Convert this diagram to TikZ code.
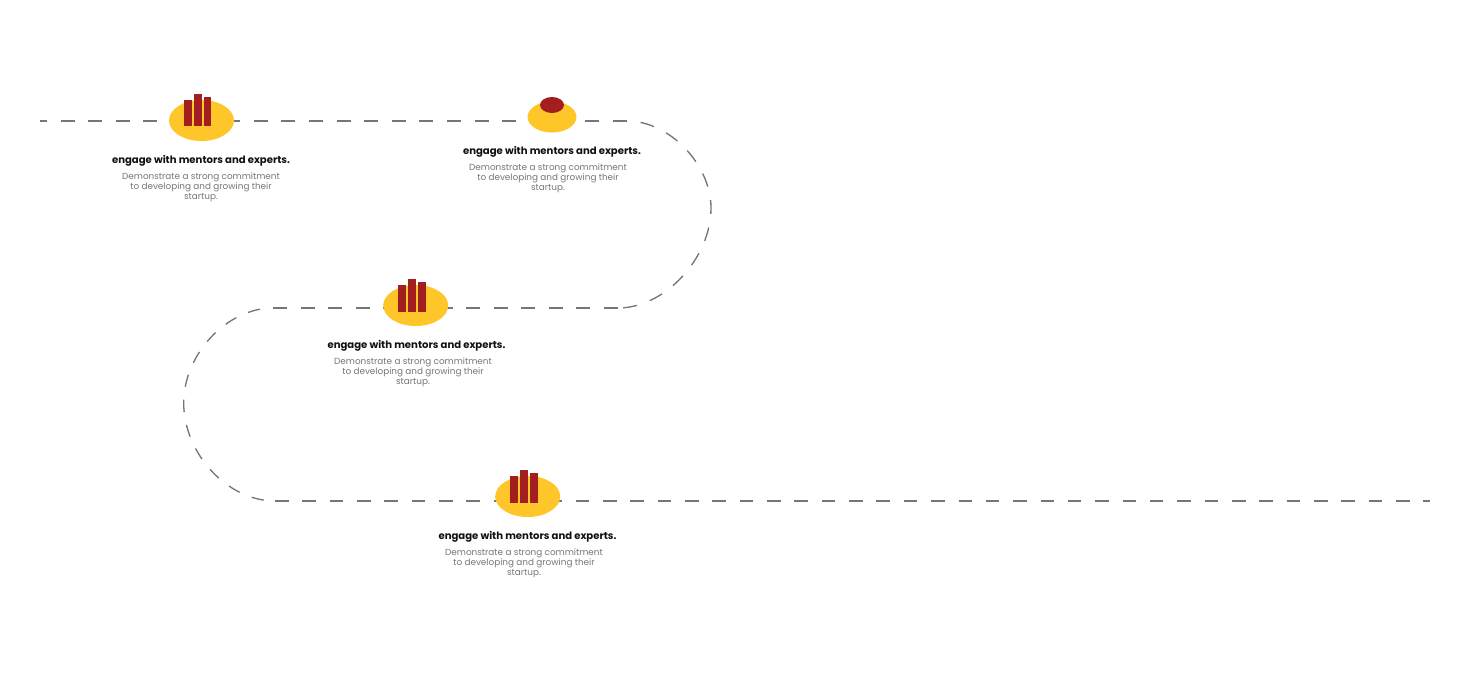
\documentclass[tikz,border=0pt]{standalone}
\usepackage{fontspec}
\setmainfont{Poppins}
\usetikzlibrary{shapes.geometric}
\definecolor{pathgrey}{HTML}{767676}
\definecolor{spotyellow}{HTML}{FFC629}
\definecolor{barred}{HTML}{A31F1F}
\definecolor{headblack}{HTML}{111111}
\definecolor{bodygrey}{HTML}{757575}

\tikzset{
  spot/.style={ellipse,fill=spotyellow,inner sep=0pt,minimum width=65pt,minimum height=41pt},
  smallspot/.style={ellipse,fill=spotyellow,inner sep=0pt,minimum width=49pt,minimum height=31pt},
  redspot/.style={ellipse,fill=barred,inner sep=0pt,minimum width=24pt,minimum height=16pt},
  bar/.style={fill=barred,inner sep=0pt,minimum width=7.8pt,anchor=south},
  head/.style={font=\bfseries\fontsize{10.1}{12}\selectfont,text=headblack,inner sep=0pt},
  body/.style={font=\fontsize{8.85}{10}\selectfont,text=bodygrey,align=center,inner sep=0pt},
  trail/.style n args={3}{draw=pathgrey,line width=1.35pt,dash pattern=on #1pt off #2pt,dash phase=#3pt}
}

\begin{document}
\begin{tikzpicture}[x=1pt,y=-1pt]
  \useasboundingbox (0,0) rectangle (1481,680);

  \coordinate (start) at (40,121);
  \coordinate (bendA) at (627,121);
  \coordinate (bendB) at (618,308);
  \coordinate (bendC) at (273,308);
  \coordinate (bendD) at (275,501);
  \coordinate (finish) at (1430,501);

  % the trail, piece by piece
  \draw[trail={14}{13.6}{7}] (start) -- (bendA);
  \draw[trail={14}{13.7}{14}] (bendA)
    .. controls (670,121) and (711,165) .. (711,208)
    .. controls (711,258) and (665,308) .. (bendB);
  \draw[trail={14}{13.58}{0}] (bendB) -- (bendC);
  \draw[trail={12.4}{13}{12.4}] (bendC)
    .. controls (227,308) and (183.7,354) .. (183.7,403)
    .. controls (183.7,453) and (227,501) .. (bendD);
  \draw[trail={13.6}{13.74}{0}] (bendD) -- (finish);

  \node[spot] (s1) at (201.5,120.5) {};
  \node[smallspot] (s2) at (552,117) {};
  \node[redspot] (r2) at (552,105) {};
  \node[spot] (s3) at (415.7,305.5) {};
  \node[spot] (s4) at (527.7,496.5) {};

  % bars on the three big spots
  \foreach \s/\x/\y in {s1/201.5/126.5,s3/415.7/311.7,s4/527.7/502.7}{
    \node[bar,minimum height=26.5pt] (\s a) at (\x-13.5,\y) {};
    \node[bar,minimum height=32.5pt] (\s b) at (\x-3.5,\y) {};
    \node[bar,minimum height=29.5pt] (\s c) at (\x+6,\y) {};
  }

  % texts
  \foreach \n/\x/\y/\bx in {t1/201/161/201,t2/552/151.5/548,t3/416.5/346/413,t4/527.5/537/524}{
    \node[head] (\n) at (\x,\y) {engage with mentors and experts.};
    \node[body,anchor=north] (\n b) at (\bx,\y+12) {Demonstrate a strong commitment\\to developing and growing their\\startup.};
  }
\end{tikzpicture}
\end{document}
